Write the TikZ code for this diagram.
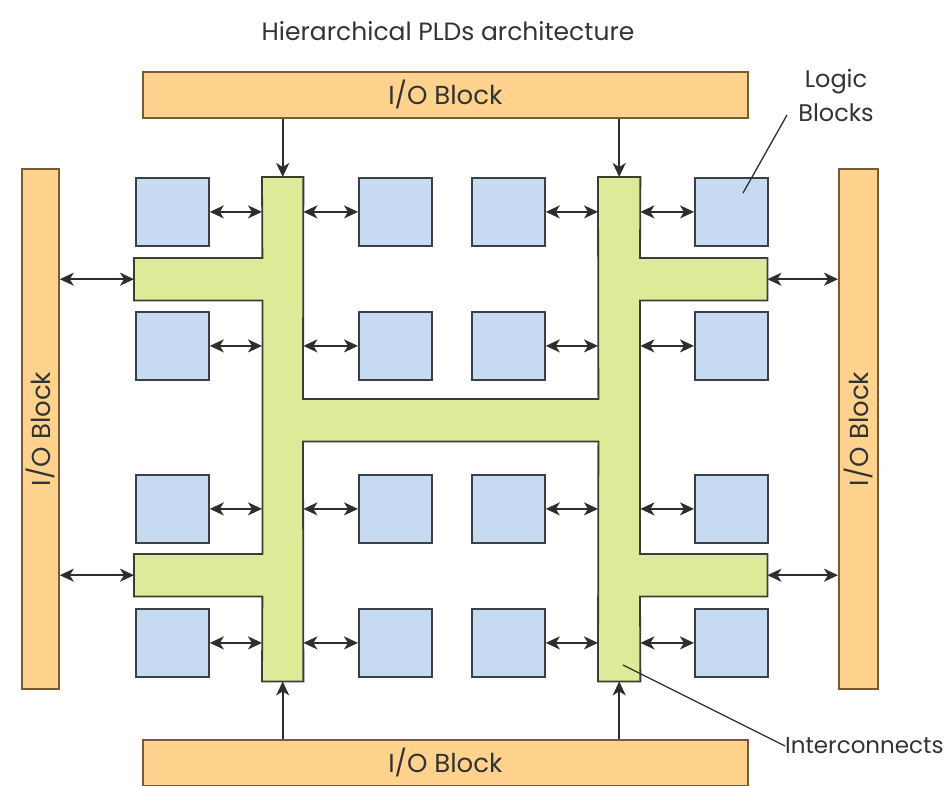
\documentclass[tikz,border=0pt]{standalone}
\usepackage{fontspec}
\setmainfont{Poppins}
\usetikzlibrary{arrows.meta}
\definecolor{ioFill}{HTML}{FFD38E}
\definecolor{ioLine}{HTML}{7A5A30}
\definecolor{lbFill}{HTML}{C6DAF1}
\definecolor{lbLine}{HTML}{3A3F48}
\definecolor{gFill}{HTML}{DDEA97}
\definecolor{gLine}{HTML}{3A3F30}
\definecolor{txt}{HTML}{333333}
\definecolor{arr}{HTML}{2E2E2E}
\tikzset{
  iobox/.style={draw=ioLine, fill=ioFill, line width=1.8pt, inner sep=0pt, anchor=north west, text=txt, font=\fontsize{26}{30}\selectfont},
  lbbox/.style={draw=lbLine, fill=lbFill, line width=1.8pt, inner sep=0pt, anchor=north west, minimum width=73pt, minimum height=68pt},
  gbar/.style={fill=gFill, inner sep=0pt, anchor=north west},
  biarrow/.style={{Stealth[length=14pt,width=13pt,inset=4pt]}-{Stealth[length=14pt,width=13pt,inset=4pt]}, line width=1.8pt, draw=arr},
  uniarrow/.style={-{Stealth[length=14pt,width=13pt,inset=4pt]}, line width=1.8pt, draw=arr},
  leader/.style={line width=1.3pt, draw=arr},
  lbl/.style={text=txt, font=\fontsize{26}{30}\selectfont, inner sep=0pt}
}
\begin{document}
\begin{tikzpicture}[x=1pt,y=-1pt]
\useasboundingbox (0,0) rectangle (948,785);
\fill[white] (0,0) rectangle (948,785);

% title
\node[lbl, font=\fontsize{25}{30}\selectfont] (title) at (448,31) {Hierarchical PLDs architecture};

% I/O blocks
\node[iobox, minimum width=605pt, minimum height=46pt] (ioT) at (142,71) {I/O Block};
\node[iobox, minimum width=605pt, minimum height=46pt] (ioB) at (142,739) {I/O Block};
\node[iobox, minimum width=37pt, minimum height=520pt] (ioL) at (21,168) {};
\node[iobox, minimum width=39pt, minimum height=520pt] (ioR) at (838,168) {};
\node[lbl, rotate=90] at (ioL.center) {I/O Block};
\node[lbl, rotate=90] at (ioR.center) {I/O Block};

% green interconnect (fills)
\node[gbar, minimum width=41pt, minimum height=504pt] (gL) at (262,177) {};
\node[gbar, minimum width=42pt, minimum height=504pt] (gR) at (598,177) {};
\node[gbar, minimum width=128pt, minimum height=42pt] (aLU) at (134,258) {};
\node[gbar, minimum width=128pt, minimum height=42pt] (aLD) at (134,554) {};
\node[gbar, minimum width=127pt, minimum height=42pt] (aRU) at (640,258) {};
\node[gbar, minimum width=127pt, minimum height=42pt] (aRD) at (640,554) {};
\node[gbar, minimum width=295pt, minimum height=42pt] (gM) at (303,399) {};
% green outline
\draw[draw=gLine, line width=1.8pt, line join=miter]
  (gL.north west) -- (gL.north east) -- (gM.north west) -- (gM.north east)
  -- (gR.north west) -- (gR.north east) -- (aRU.north west) -- (aRU.north east)
  -- (aRU.south east) -- (aRU.south west) -- (aRD.north west) -- (aRD.north east)
  -- (aRD.south east) -- (aRD.south west) -- (gR.south east) -- (gR.south west)
  -- (gM.south east) -- (gM.south west) -- (gL.south east) -- (gL.south west)
  -- (aLD.south east) -- (aLD.south west) -- (aLD.north west) -- (aLD.north east)
  -- (aLU.south east) -- (aLU.south west) -- (aLU.north west) -- (aLU.north east)
  -- cycle;

% logic blocks
\foreach \r/\yy in {1/177, 2/311, 3/474, 4/608} {
  \foreach \c/\xx in {1/135, 2/358, 3/471, 4/694} {
    \node[lbbox] (lb\r\c) at (\xx,\yy) {};
  }
}

% block <-> interconnect arrows
\foreach \r in {1,2,3,4} {
  \draw[biarrow] (lb\r1.east) -- (lb\r1.east -| gL.west);
  \draw[biarrow] (gL.east |- lb\r2.west) -- (lb\r2.west);
  \draw[biarrow] (lb\r3.east) -- (lb\r3.east -| gR.west);
  \draw[biarrow] (gR.east |- lb\r4.west) -- (lb\r4.west);
}

% I/O side arrows
\draw[biarrow] (ioL.east |- aLU.west) -- (aLU.west);
\draw[biarrow] (ioL.east |- aLD.west) -- (aLD.west);
\draw[biarrow] (aRU.east) -- (ioR.west |- aRU.east);
\draw[biarrow] (aRD.east) -- (ioR.west |- aRD.east);

% top / bottom arrows
\draw[uniarrow] (ioT.south -| gL.center) -- (gL.north);
\draw[uniarrow] (ioT.south -| gR.center) -- (gR.north);
\draw[uniarrow] (ioB.north -| gL.center) -- (gL.south);
\draw[uniarrow] (ioB.north -| gR.center) -- (gR.south);

% labels with leaders
\node[lbl, align=center, font=\fontsize{24}{34}\selectfont] (lblLogic) at (836,95) {Logic\\Blocks};
\coordinate (lbS) at (787,115);
\coordinate (lbE) at (743,193);
\draw[leader] (lbS) -- (lbE);

\node[lbl, anchor=west, font=\fontsize{23}{27}\selectfont] (lblIC) at (785,746) {Interconnects};
\coordinate (icE) at (623,665);
\draw[leader] (lblIC.west) -- (icE);
\end{tikzpicture}
\end{document}
